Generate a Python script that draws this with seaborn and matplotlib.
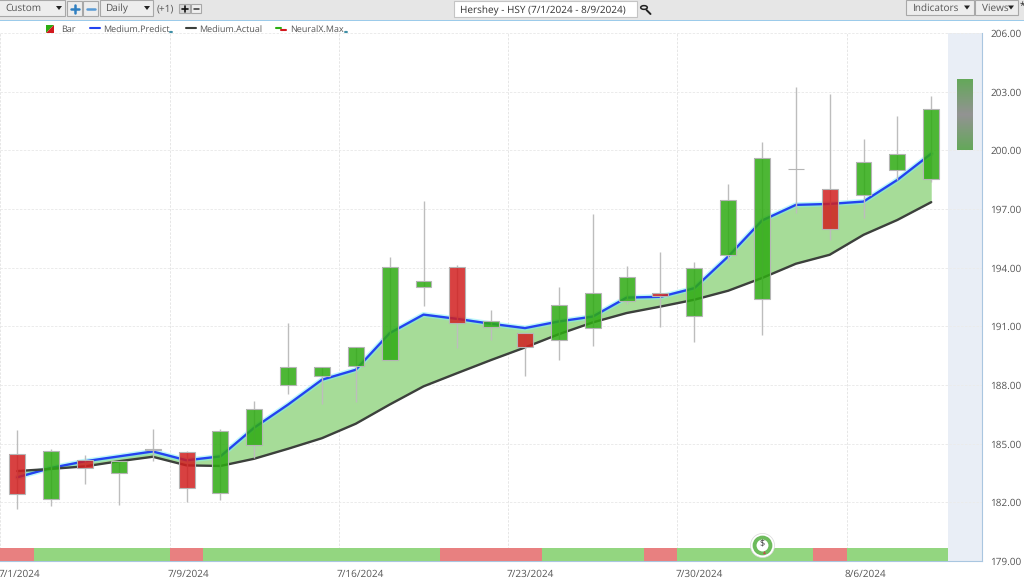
import matplotlib
matplotlib.use("Agg")
import matplotlib.pyplot as plt
import matplotlib.transforms as mtrans
from matplotlib.colors import LinearSegmentedColormap
from matplotlib.patches import Rectangle, Polygon, Circle
import numpy as np
import pandas as pd
import seaborn as sns

W, H = 1024, 579

# daily bars
opens = [184.47, 182.19, 184.18, 183.52, 184.66, 184.57, 182.50, 184.95, 188.01, 188.47,
         188.98, 189.29, 192.99, 194.01, 190.99, 190.67, 190.28, 190.91, 192.32, 192.68,
         191.54, 194.67, 192.41, 199.03, 198.01, 197.72, 198.98, 198.55]
closes = [182.43, 184.64, 183.76, 184.13, 184.74, 182.73, 185.66, 186.77, 188.93, 188.93,
          189.95, 194.01, 193.33, 191.17, 191.28, 189.94, 192.10, 192.68, 193.53, 192.55,
          193.98, 197.47, 199.60, 199.07, 196.00, 199.39, 199.80, 202.10]
highs = [185.71, 184.74, 184.44, 184.13, 185.75, 184.60, 185.76, 187.16, 191.18, 188.93,
         189.95, 194.52, 197.43, 194.14, 191.81, 190.67, 193.00, 196.73, 194.11, 194.79,
         194.31, 198.28, 200.45, 203.22, 202.88, 200.57, 201.76, 202.78]
lows = [181.66, 181.80, 182.94, 181.88, 184.13, 182.02, 182.10, 184.27, 187.55, 187.04,
        187.14, 189.29, 192.05, 189.87, 190.32, 188.44, 189.29, 189.97, 192.15, 190.98,
        190.22, 194.31, 190.57, 196.79, 195.39, 196.56, 198.49, 198.37]

predict = [183.28, 183.76, 184.10, 184.35, 184.60, 184.15, 184.35, 185.82, 187.00, 188.27,
           188.78, 190.65, 191.60, 191.38, 191.13, 190.91, 191.25, 191.50, 192.47, 192.51,
           192.95, 194.57, 196.41, 197.21, 197.26, 197.38, 198.49, 199.83]
actual = [183.60, 183.71, 183.84, 184.10, 184.33, 183.89, 183.86, 184.23, 184.74, 185.28,
          186.02, 187.00, 187.93, 188.61, 189.28, 189.92, 190.60, 191.20, 191.68, 192.01,
          192.36, 192.82, 193.47, 194.20, 194.66, 195.68, 196.44, 197.35]

# signal strip along the bottom, one per bar (1 up, 0 down)
signal = [0, 1, 1, 1, 1, 0, 1, 1, 1, 1, 1, 1, 1, 0, 0, 0, 1, 1, 1, 0, 1, 1, 1, 1, 0, 1, 1, 1]

forecast_high = 203.65
forecast_low = 200.04

y_ticks = [179, 182, 185, 188, 191, 194, 197, 200, 203, 206]
date_labels = ["7/1/2024", "7/9/2024", "7/16/2024", "7/23/2024", "7/30/2024", "8/6/2024"]
date_bars = [0, 5, 10, 15, 20, 25]

GREEN = "#2EAB12"
RED = "#D21F1F"
TEXT = "#555555"
BOX = "#A8A8A8"

sns.set_theme(style="white")
plt.rcParams["font.family"] = ["Open Sans", "DejaVu Sans"]
plt.rcParams["text.hinting"] = "no_hinting"
plt.rcParams["text.hinting_factor"] = 1

fig = plt.figure(figsize=(W / 100, H / 100), dpi=100, facecolor="white")
ax = fig.add_axes([0.4 / W, 1 - 561 / H, (982 - 0.4) / W, (561 - 33) / H])

bars = np.arange(len(opens))
df = pd.DataFrame({"bar": bars, "predict": predict, "actual": actual})

# forecast column on the right
ax.axvspan(27.5, 28.5, color="#E9EEF6", lw=0, zorder=0)

ax.fill_between(bars, predict, actual, color="#A6DC98", lw=0, zorder=2)
sns.lineplot(data=df, x="bar", y="predict", color="#7FF0F5", lw=3.8, alpha=0.5, ax=ax, zorder=3)
sns.lineplot(data=df, x="bar", y="predict", color="#2343F0", lw=1.7, ax=ax, zorder=4)
sns.lineplot(data=df, x="bar", y="actual", color="#3C403C", lw=1.7, ax=ax, zorder=4)

# candles
ax.vlines(bars, lows, highs, color="#BDBDBD", lw=1.0, zorder=5)
for i in bars:
    up = closes[i] >= opens[i]
    ax.bar(i, abs(closes[i] - opens[i]), bottom=min(opens[i], closes[i]), width=0.47,
           color=GREEN if up else RED, alpha=0.85, lw=0, zorder=6)
    ax.bar(i, abs(closes[i] - opens[i]), bottom=min(opens[i], closes[i]), width=0.47,
           facecolor="none", edgecolor="#B5B5B5", lw=0.8, zorder=6)

# forecast bar
cmap = LinearSegmentedColormap.from_list("fc", ["#64A85A", "#939393", "#64A85A"])
ax.imshow(np.linspace(0, 1, 100).reshape(-1, 1), cmap=cmap, aspect="auto", zorder=6,
          extent=(27.765, 28.235, forecast_low, forecast_high))

# signal strip
strip_top = 179.68
for i in bars:
    ax.bar(i, strip_top - 179, bottom=179, width=1.0, lw=0, zorder=7,
           color="#93D680" if signal[i] else "#E88080")

# dividend marker
ax.scatter([22], [179.82], s=300, color="white", edgecolor="#D8D8D8", lw=0.5, zorder=8)
ax.scatter([22], [179.82], s=130, color="white", edgecolor="#6DBB5C", lw=2.8, zorder=9)
ax.text(22, 179.86, "$", ha="center", va="center", fontsize=6.5, color="#333333", zorder=10)
ax.scatter([22.05], [179.48], s=5, marker="^", color="#C0504D", lw=0, zorder=10)

ax.set_xlim(-0.5, 28.5)
ax.set_ylim(179, 206)
ax.set_xlabel("")
ax.set_ylabel("")

ax.set_axisbelow(True)
ax.grid(True, axis="y", color="#EBEBEB", lw=0.7, ls=(0, (2.5, 1.5)), zorder=1)
ax.set_xticks([b - 0.5 for b in date_bars], date_labels)
ax.grid(True, axis="x", color="#E6E6E6", lw=0.7, ls=(0, (2.5, 1.5)), zorder=1)
ax.set_xticks(bars, minor=True)
ax.tick_params(axis="x", which="major", length=4, width=0.7, color="#B8C4D0", labelsize=6.9, labelcolor=TEXT, pad=2)
ax.tick_params(axis="x", which="minor", length=2.5, width=0.7, color="#B8C4D0")
offset = mtrans.ScaledTranslation(-2 / 100, 0, fig.dpi_scale_trans)
for t in ax.get_xticklabels():
    t.set_ha("left")
    t.set_transform(t.get_transform() + offset)

ax.yaxis.tick_right()
ax.set_yticks(y_ticks, [f"{v:.2f}" for v in y_ticks])
ax.tick_params(axis="y", length=0, labelsize=6.9, labelcolor=TEXT, pad=28.6)
for t in ax.get_yticklabels():
    t.set_ha("right")

for side in ["top", "left"]:
    ax.spines[side].set_visible(False)
ax.spines["right"].set_color("#A9C6E0")
ax.spines["right"].set_linewidth(0.8)
ax.spines["right"].set_linestyle((0, (2, 1)))
ax.spines["bottom"].set_color("#A9C6E0")
ax.spines["bottom"].set_linewidth(0.8)
ax.spines["bottom"].set_linestyle((0, (2, 1)))


# toolbar and legend sit outside the axes, placed in pixels from the top left
def px(x, y):
    return x / W, 1 - y / H


def box(x0, y0, x1, y1, face="#EDEDED", edge=BOX, lw=0.8):
    fig.add_artist(Rectangle(px(x0, y1), (x1 - x0) / W, (y1 - y0) / H, facecolor=face, edgecolor=edge, lw=lw))


def label(x, y, s, size=6.9, color=TEXT, **kw):
    fig.text(*px(x, y), s, fontsize=size, color=color, ha="left", va="center", **kw)


def arrow(x, y, size=3):
    fig.add_artist(Polygon([px(x - size, y - 2), px(x + size, y - 2), px(x, y + 2)], facecolor="#222222", lw=0))


def dash(x0, x1, y, color):
    fig.add_artist(plt.Line2D([x0 / W, x1 / W], [1 - y / H] * 2, color=color, lw=1.5))


box(0, 0, W, 20, face="#E6E6E6", edge="none", lw=0)
box(0, 20, W, 21.2, face="#9CCBEA", edge="none", lw=0)

box(-2, 0, 65, 16)
label(5, 8.5, "Custom")
arrow(59, 8)
box(67, 1, 82, 16)
fig.add_artist(plt.Line2D([70.5 / W, 78.5 / W], [1 - 8.5 / H] * 2, color="#2F7FC1", lw=1.8))
fig.add_artist(plt.Line2D([74.5 / W, 74.5 / W], [1 - 4.5 / H, 1 - 12.5 / H], color="#2F7FC1", lw=1.8))
box(83, 1, 98, 16)
fig.add_artist(plt.Line2D([86.5 / W, 94.5 / W], [1 - 8.5 / H] * 2, color="#5A9BD5", lw=1.8))
box(100, 0, 153, 16)
label(105, 8.5, "Daily")
arrow(147, 8)
label(157, 9, "(+1)")
box(179, 4, 190, 13, face="#D8D8D8")
fig.add_artist(plt.Line2D([181.5 / W, 187.5 / W], [1 - 8.5 / H] * 2, color="#111111", lw=1.2))
fig.add_artist(plt.Line2D([184.5 / W, 184.5 / W], [1 - 5.5 / H, 1 - 11.5 / H], color="#111111", lw=1.2))
box(191, 4, 201, 13, face="#EFEFEF")
fig.add_artist(plt.Line2D([193.5 / W, 198.5 / W], [1 - 8.5 / H] * 2, color="#333333", lw=1.1))

box(454, 1, 637, 17, face="white", edge="#C4C4C4")
label(460, 10.5, "Hershey - HSY (7/1/2024 - 8/9/2024)", size=7.3, color="#333333")
fig.add_artist(Circle(px(644, 7.5), 3.3 / W, facecolor="none", edgecolor="#222222", lw=1.1))
fig.add_artist(plt.Line2D([646.5 / W, 650.5 / W], [1 - 10 / H, 1 - 14 / H], color="#222222", lw=1.4))

box(906, 0, 974, 15)
label(912, 8, "Indicators")
arrow(967, 7.5)
box(975, 0, 1018, 15)
label(982, 8, "Views")
arrow(1011, 7.5)
label(1020, 7, "*", size=7, color="#222222")

# legend row
fig.add_artist(Polygon([px(46, 25), px(54, 25), px(46, 33)], facecolor="#2DAE12", lw=0))
fig.add_artist(Polygon([px(54, 25), px(54, 33), px(46, 33)], facecolor="#D2191E", lw=0))
label(61, 29.5, "Bar", size=6.5)
dash(90, 100, 28, "#2343F0")
label(103, 29.5, "Medium.Predict", size=6.5)
fig.add_artist(Circle(px(171, 32), 2 / W, facecolor="#3F8FA6", lw=0, zorder=5))
dash(186, 196, 28, "#3C403C")
label(199, 29.5, "Medium.Actual", size=6.5)
dash(276, 281, 27.5, "#2DAE12")
dash(281, 286, 30, "#D2191E")
label(290, 29.5, "NeuralX.Max", size=6.5)
fig.add_artist(Circle(px(346, 32), 2 / W, facecolor="#3F8FA6", lw=0, zorder=5))

fig.savefig("out.png", dpi=100)
